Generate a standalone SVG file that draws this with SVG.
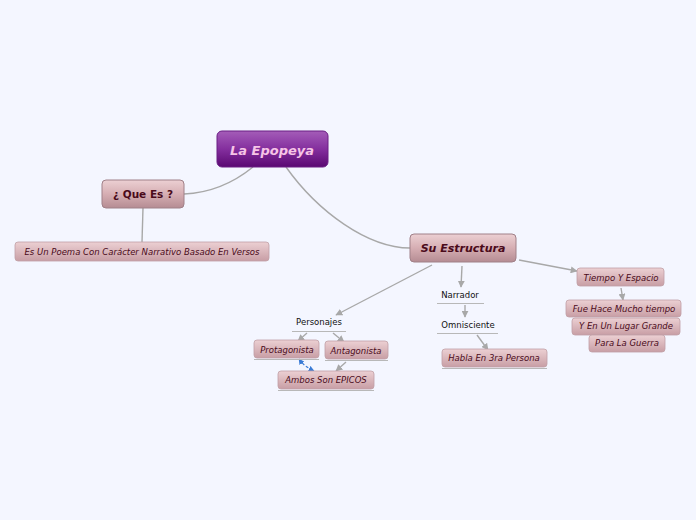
<svg xmlns="http://www.w3.org/2000/svg" width="696" height="520" viewBox="0 0 696 520">
<defs>
<linearGradient id="gMain" x1="0" y1="0" x2="0" y2="1">
<stop offset="0" stop-color="#a45cb8"/><stop offset="0.5" stop-color="#842f9e"/><stop offset="1" stop-color="#5a0872"/>
</linearGradient>
<linearGradient id="gSub" x1="0" y1="0" x2="0" y2="1">
<stop offset="0" stop-color="#ecd0d3"/><stop offset="0.5" stop-color="#d6aeb3"/><stop offset="1" stop-color="#b58c93"/>
</linearGradient>
<linearGradient id="gLeaf" x1="0" y1="0" x2="0" y2="1">
<stop offset="0" stop-color="#ecd0d3"/><stop offset="1" stop-color="#c89ea5"/>
</linearGradient>
<marker id="ah" viewBox="0 0 10 10" refX="9" refY="5" markerWidth="7" markerHeight="7" orient="auto-start-reverse" markerUnits="userSpaceOnUse">
<path d="M0,0 L10,5 L0,10 z" fill="#a8a8a8"/>
</marker>
<marker id="ahb" viewBox="0 0 10 10" refX="9" refY="5" markerWidth="6" markerHeight="6" orient="auto-start-reverse" markerUnits="userSpaceOnUse">
<path d="M0,0 L10,5 L0,10 z" fill="#3a7bd5"/>
</marker>
</defs>
<style>
text{font-family:"DejaVu Sans","Liberation Sans",sans-serif;text-anchor:middle;dominant-baseline:central}
.main{fill:url(#gMain);stroke:#6a1e84;stroke-width:1}
.sub{fill:url(#gSub);stroke:#a08088;stroke-width:1}
.leaf{fill:url(#gLeaf);stroke:#c0a0a6;stroke-width:0.8}
.lt{font-size:8.5px;font-style:italic;fill:#4a0a1a}
.pt{font-size:8.5px;fill:#111}
.ul{stroke:#b8b8b8;stroke-width:1}
.c{fill:none;stroke:#a8a8a8;stroke-width:1.4}
</style>
<rect width="696" height="520" fill="#f4f6ff"/>
<g id="connectors">
<path class="c" d="M253,167 C232,184 208,193 184,194"/>
<path class="c" d="M286,167 C318,212 368,248 410,248"/>
<path class="c" d="M143,208 L142,242" stroke="#c8c8c8" stroke-width="1"/>
<path class="c" d="M432,265 L336,315" marker-end="url(#ah)"/>
<path class="c" d="M462,266 L461,287" marker-end="url(#ah)"/>
<path class="c" d="M519,260 L577,271" marker-end="url(#ah)"/>
<path class="c" d="M465,305 L465,317" marker-end="url(#ah)"/>
<path class="c" d="M477,335 L488,350" marker-end="url(#ah)"/>
<path class="c" d="M307,333 L298,341" marker-end="url(#ah)"/>
<path class="c" d="M333,333 L344,342" marker-end="url(#ah)"/>
<path class="c" d="M346,362 L336,371" marker-end="url(#ah)"/>
<path class="c" d="M621,288 L623,300" marker-end="url(#ah)"/>
<path d="M299,359 C303,365 308,368 314,371" fill="none" stroke="#3a7bd5" stroke-width="1.2" stroke-dasharray="3,2" marker-start="url(#ahb)" marker-end="url(#ahb)"/>
</g>
<g id="n-epopeya">
<rect class="main" x="217" y="131" width="111" height="36" rx="5"/>
<text x="272" y="150" font-size="13" font-weight="bold" font-style="italic" fill="#f6c4e6">La Epopeya</text>
</g>
<g id="n-quees">
<rect class="sub" x="102" y="180" width="82" height="28" rx="4"/>
<text x="143" y="194" font-size="10.5" font-weight="bold" fill="#4a0a1a">¿ Que Es ?</text>
</g>
<g id="n-poema">
<rect class="leaf" x="15" y="242" width="254" height="19" rx="3"/>
<text class="lt" x="142" y="252">Es Un Poema Con Carácter Narrativo Basado En Versos</text>
</g>
<g id="n-estructura">
<rect class="sub" x="410" y="234" width="106" height="28" rx="4"/>
<text x="463" y="248" font-size="11" font-weight="bold" font-style="italic" fill="#4a0a1a">Su Estructura</text>
</g>
<g id="n-tiempo">
<rect class="leaf" x="577" y="268" width="87" height="18" rx="3"/>
<text class="lt" x="621" y="278">Tiempo Y Espacio</text>
</g>
<g id="n-fue">
<rect class="leaf" x="566" y="300" width="115" height="17" rx="3"/>
<text class="lt" x="624" y="309">Fue Hace Mucho tiempo</text>
</g>
<g id="n-lugar">
<rect class="leaf" x="572" y="318" width="108" height="17" rx="3"/>
<text class="lt" x="626" y="326">Y En Un Lugar Grande</text>
</g>
<g id="n-guerra">
<rect class="leaf" x="589" y="335" width="76" height="17" rx="3"/>
<text class="lt" x="627" y="343">Para La Guerra</text>
</g>
<g id="n-narrador">
<text class="pt" x="460" y="295">Narrador</text>
<line class="ul" x1="437" y1="303.5" x2="484" y2="303.5"/>
</g>
<g id="n-omnisciente">
<text class="pt" x="468" y="325">Omnisciente</text>
<line class="ul" x1="437" y1="333.5" x2="498" y2="333.5"/>
</g>
<g id="n-habla">
<rect class="leaf" x="442" y="349" width="105" height="18" rx="3"/>
<text class="lt" x="494" y="358">Habla En 3ra Persona</text>
<line class="ul" x1="442" y1="368.5" x2="547" y2="368.5"/>
</g>
<g id="n-personajes">
<text class="pt" x="319" y="322">Personajes</text>
<line class="ul" x1="292" y1="331.5" x2="346" y2="331.5"/>
</g>
<g id="n-protagonista">
<rect class="leaf" x="254" y="340" width="65" height="18" rx="3"/>
<text class="lt" x="287" y="350">Protagonista</text>
<line class="ul" x1="254" y1="359.5" x2="319" y2="359.5"/>
</g>
<g id="n-antagonista">
<rect class="leaf" x="325" y="341" width="63" height="18" rx="3"/>
<text class="lt" x="356" y="351">Antagonista</text>
<line class="ul" x1="325" y1="360.5" x2="388" y2="360.5"/>
</g>
<g id="n-ambos">
<rect class="leaf" x="278" y="371" width="96" height="18" rx="3"/>
<text class="lt" x="326" y="380">Ambos Son EPICOS</text>
<line class="ul" x1="278" y1="390.5" x2="374" y2="390.5"/>
</g>
</svg>
